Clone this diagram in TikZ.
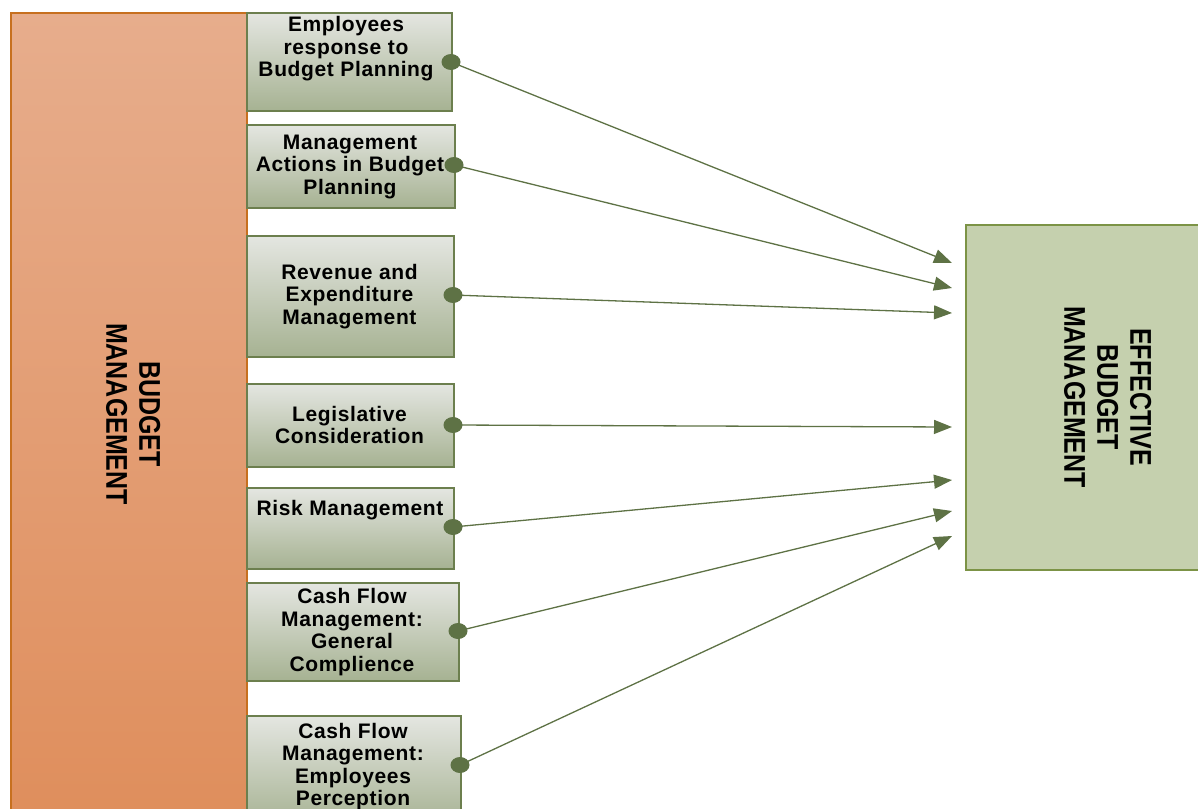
\documentclass[tikz,border=0pt]{standalone}
\usepackage{fontspec}
\setmainfont{Liberation Sans}
\usetikzlibrary{arrows.meta,shapes.geometric}
\definecolor{orgtop}{HTML}{E7AD8C}
\definecolor{orgbot}{HTML}{DF8E5C}
\definecolor{orgedge}{HTML}{C7701F}
\definecolor{boxtop}{HTML}{E4E6E1}
\definecolor{boxbot}{HTML}{A6B292}
\definecolor{boxedge}{HTML}{6C7F4E}
\definecolor{efffill}{HTML}{C5D0AE}
\definecolor{effedge}{HTML}{7C9346}
\definecolor{linkc}{HTML}{5E7245}
\begin{document}
\begin{tikzpicture}[x=1pt,y=-1pt,
  factor/.style={rectangle, draw=boxedge, line width=1.8pt, top color=boxtop,
    bottom color=boxbot, inner sep=0pt, anchor=north west},
  factortext/.style={font=\bfseries\fontsize{21}{22.5}\selectfont\addfontfeatures{LetterSpace=3},
    align=center, inner sep=0pt, text=black},
  bigtext/.style={font=\bfseries\fontsize{25}{27.5}\selectfont, align=center,
    inner sep=0pt, rotate=-90, text=black},
  dot/.style={ellipse, fill=linkc, inner sep=0pt, minimum width=19pt, minimum height=16pt},
  link/.style={draw=linkc, line width=1.3pt, -{Triangle[length=18pt,width=14pt]}}
]
\useasboundingbox (0,0) rectangle (1198,808);
\clip (0,0) rectangle (1198,808);

% left column: overall budget management
\node[rectangle, draw=orgedge, line width=1.8pt, top color=orgtop, bottom color=orgbot,
  inner sep=0pt, anchor=north west, minimum width=236pt, minimum height=810pt]
  (bm) at (10,12) {};
\node[bigtext] (bmt) at (129.5,414) {\scalebox{1}[1.2]{\begin{tabular}{@{}c@{}}BUDGET\\MANAGEMENT\end{tabular}}};

% right block: effective budget management
\node[rectangle, draw=effedge, line width=1.8pt, fill=efffill, inner sep=0pt,
  anchor=north west, minimum width=245pt, minimum height=345pt] (eff) at (965,224) {};
\node[bigtext] (efft) at (1104,397) {\scalebox{1}[1.2]{\begin{tabular}{@{}c@{}}EFFECTIVE\\BUDGET\\MANAGEMENT\end{tabular}}};

% factor boxes
\node[factor, minimum width=205pt, minimum height=98pt] (b1) at (246,12) {};
\node[factor, minimum width=208pt, minimum height=83pt] (b2) at (246,124) {};
\node[factor, minimum width=207pt, minimum height=121pt] (b3) at (246,235) {};
\node[factor, minimum width=207pt, minimum height=83pt] (b4) at (246,383) {};
\node[factor, minimum width=207pt, minimum height=81pt] (b5) at (246,487) {};
\node[factor, minimum width=212pt, minimum height=98pt] (b6) at (246,582) {};
\node[factor, minimum width=214pt, minimum height=110pt] (b7) at (246,715) {};

\node[factortext] (l1) at (346,49) {Employees\\response to\\Budget Planning};
\node[factortext] (l2) at (350,166.5) {Management\\Actions in Budget\\Planning};
\node[factortext] (l3) at (349.5,296.5) {Revenue and\\Expenditure\\Management};
\node[factortext] (l4) at (349.5,425) {Legislative\\Consideration};
\node[factortext] (l5) at (350,510) {Risk Management};
\node[factortext] (l6) at (352,632) {Cash Flow\\Management:\\General\\Complience};
\node[factortext] (l7) at (353,766.5) {Cash Flow\\Management:\\Employees\\Perception};

% arrow targets in front of the right block
\coordinate (t1) at (952,263);
\coordinate (t2) at (952,288);
\coordinate (t3) at (952,313);
\coordinate (t4) at (952,427);
\coordinate (t5) at (952,480);
\coordinate (t6) at (952,511);
\coordinate (t7) at (952,536);

% connectors
\coordinate (s1) at (451,62);
\coordinate (s2) at (454,165);
\coordinate (s3) at (453,295);
\coordinate (s4) at (453,425);
\coordinate (s5) at (453,527);
\coordinate (s6) at (458,631);
\coordinate (s7) at (460,765);
\foreach \i in {1,...,7} {
  \draw[link] (s\i) -- (t\i);
  \node[dot] (d\i) at (s\i) {};
}
\end{tikzpicture}
\end{document}
